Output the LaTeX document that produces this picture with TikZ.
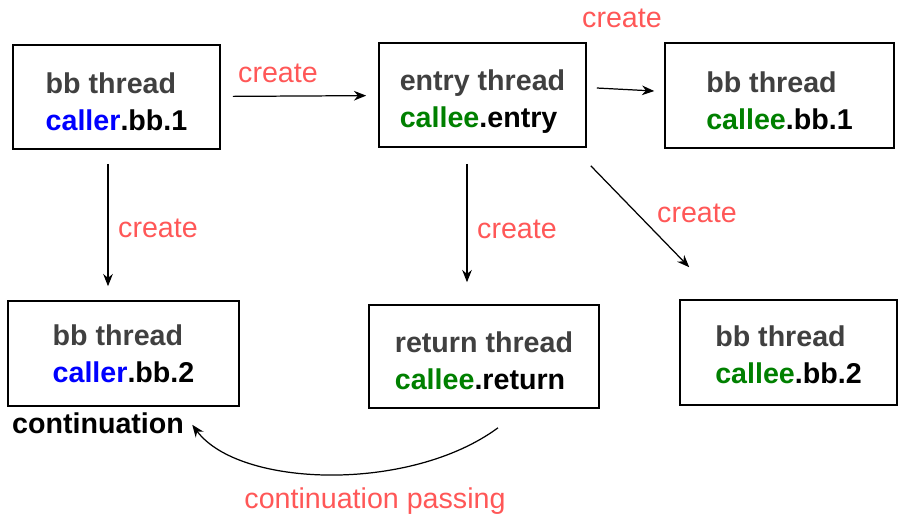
\documentclass[tikz,border=0pt]{standalone}
\usepackage{fontspec}
\setmainfont{Liberation Sans}
\usetikzlibrary{arrows.meta}
\definecolor{lblred}{RGB}{255,87,87}
\definecolor{thgray}{RGB}{64,64,64}
\definecolor{calleegreen}{RGB}{0,128,0}
\definecolor{callerblue}{RGB}{0,0,255}
\newcommand{\topgap}[1]{\rule{0pt}{#1}}

\begin{document}
\begin{tikzpicture}[x=0.02cm,y=-0.02cm,
    box/.style={draw, line width=0.9pt, rectangle, align=left,
      font=\fontsize{16.3}{21}\selectfont\bfseries},
    lbl/.style={inner sep=0pt, anchor=base, text=lblred,
      font=\fontsize{16.3}{20}\selectfont},
    arrow/.style={-{Stealth[length=7pt,width=5.5pt]}, line width=0.7pt}]
    \useasboundingbox (0,0) rectangle (899,515);

    \node[box, minimum width=4.14cm, minimum height=2.08cm] (caller1) at (116.5,97)
      {\topgap{17.6pt}{\color{thgray}bb thread}\\{\color{callerblue}caller}.bb.1};
    \node[box, minimum width=4.14cm, minimum height=2.08cm] (entry) at (482.5,95)
      {\topgap{19.8pt}{\color{thgray}entry thread}\\{\color{calleegreen}callee}.entry};
    \node[box, minimum width=4.58cm, minimum height=2.1cm] (callee1) at (779.5,95.5)
      {\topgap{17.6pt}{\color{thgray}bb thread}\\{\color{calleegreen}callee}.bb.1};
    \node[box, minimum width=4.62cm, minimum height=2.1cm] (caller2) at (123.5,353.5)
      {{\color{thgray}bb thread}\\{\color{callerblue}caller}.bb.2};
    \node[box, minimum width=4.6cm, minimum height=2.06cm] (ret) at (484,356.5)
      {\topgap{16.4pt}{\color{thgray}return thread}\\{\color{calleegreen}callee}.return};
    \node[box, minimum width=4.34cm, minimum height=2.1cm] (callee2) at (788.5,352.5)
      {\topgap{14.2pt}{\color{thgray}bb thread}\\{\color{calleegreen}callee}.bb.2};

    \node[lbl, text=black, font=\fontsize{16.3}{20}\selectfont\bfseries] (cont) at (98,433) {continuation};

    \node[lbl] (create1) at (278,82) {create};
    \node[lbl] (create2) at (622,27) {create};
    \node[lbl] (create3) at (158,237) {create};
    \node[lbl] (create4) at (517,238) {create};
    \node[lbl] (create5) at (697,222) {create};
    \node[lbl] (passing) at (375,508) {continuation passing};

    \draw[arrow, shorten <=0.24cm, shorten >=0.24cm] (caller1) -- (entry);
    \draw[arrow] ([shift={(10,-7)}]entry.east) -- ([shift={(-10,-4.5)}]callee1.west);
    \draw[arrow] ([shift={(-8.5,14)}]caller1.south) -- ([shift={(-15.5,-14)}]caller2.north);
    \draw[arrow] ([shift={(-15.5,16)}]entry.south) -- ([shift={(-17,-22)}]ret.north);
    \draw[arrow] ([shift={(4,18)}]entry.south east) -- ([shift={(10,-32)}]callee2.north west);
    \draw[arrow] ([shift={(14,19)}]ret.south) .. controls +(-88,65) and +(47,63) .. ([shift={(8,2)}]cont.east);

\end{tikzpicture}
\end{document}
